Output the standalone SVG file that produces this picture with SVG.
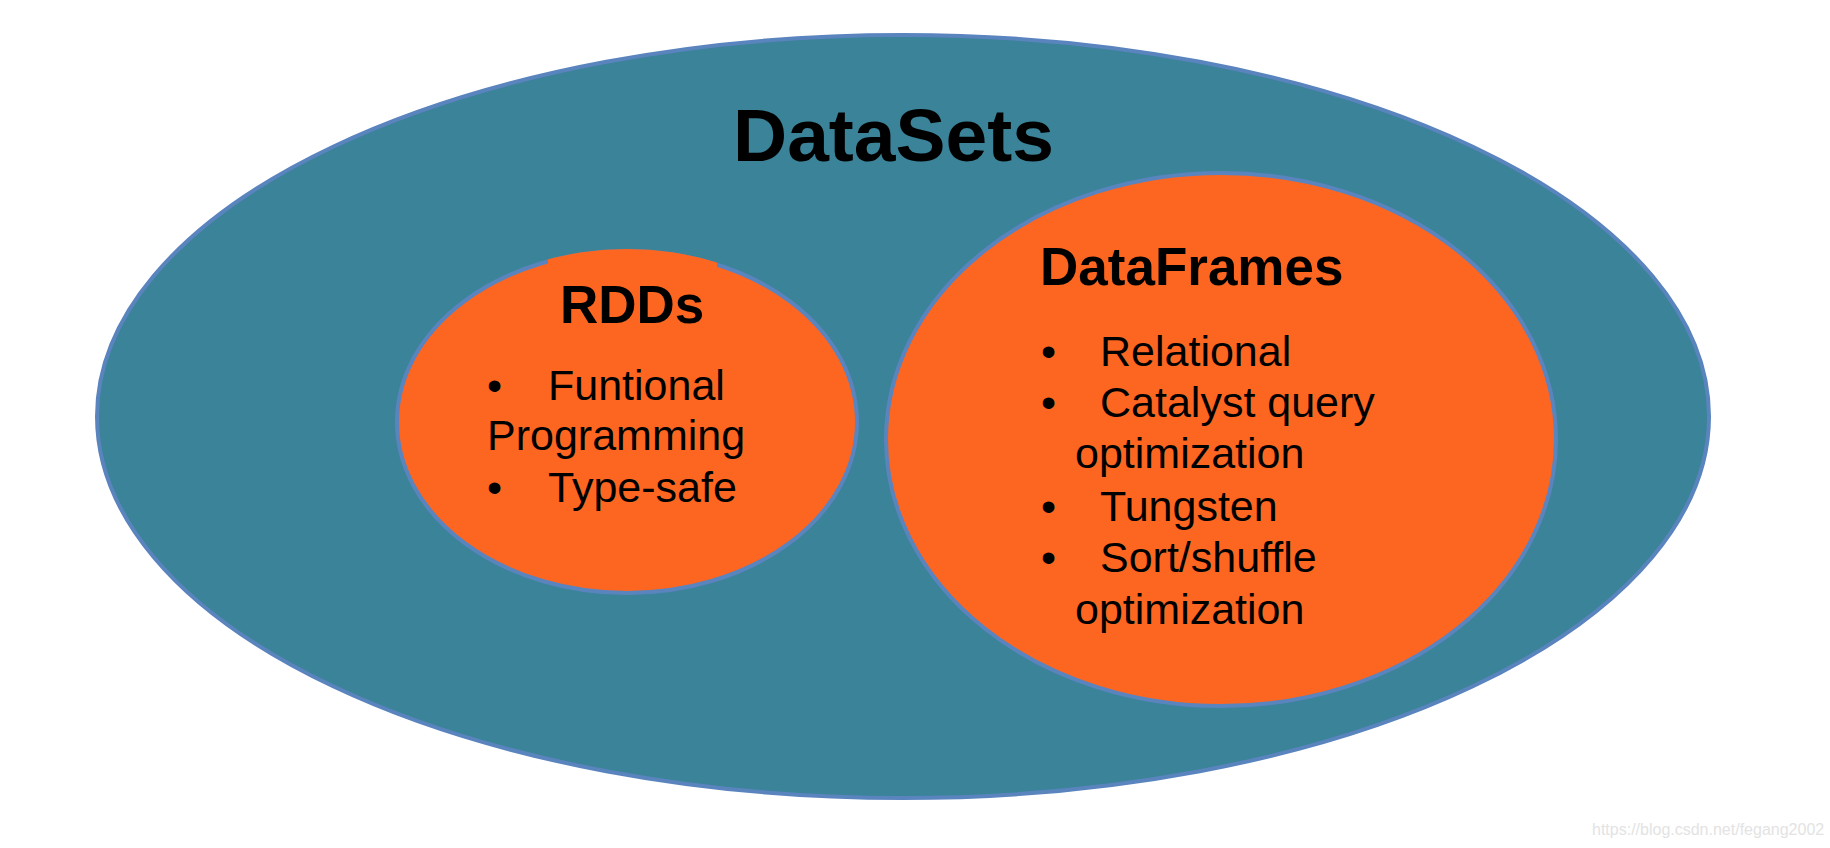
<svg xmlns="http://www.w3.org/2000/svg" width="1830" height="848" viewBox="0 0 1830 848">
<style>
.ell{stroke:#5a84be;stroke-width:4}
.teal{fill:#3a8399}
.org{fill:#fc6621}
.t{font-family:"Liberation Sans",Arial,sans-serif;fill:#000}
.b{font-weight:bold}
.body{font-size:43px}
</style>
<defs>
<clipPath id="rddclip"><ellipse cx="627" cy="422" rx="232" ry="173"/></clipPath>
</defs>
<rect width="1830" height="848" fill="#fff"/>
<g id="datasets">
<ellipse class="ell teal" cx="903" cy="416.5" rx="806" ry="381.5"/>
<text class="t b" x="733" y="161" font-size="75">DataSets</text>
</g>
<g id="rdds">
<ellipse class="ell org" cx="627" cy="422" rx="230" ry="171"/>
<rect class="org" x="548" y="240" width="169" height="95" clip-path="url(#rddclip)"/>
<text class="t b" x="560" y="323" font-size="53">RDDs</text>
<text class="t body" x="487" y="400">•</text>
<text class="t body" x="548" y="400">Funtional</text>
<text class="t body" x="487" y="450">Programming</text>
<text class="t body" x="487" y="502">•</text>
<text class="t body" x="548" y="502">Type-safe</text>
</g>
<g id="dataframes">
<ellipse class="ell org" cx="1221" cy="439.5" rx="335" ry="266.5"/>
<text class="t b" x="1040" y="285" font-size="53">DataFrames</text>
<text class="t body" x="1041" y="366">•</text>
<text class="t body" x="1100" y="366">Relational</text>
<text class="t body" x="1041" y="417">•</text>
<text class="t body" x="1100" y="417">Catalyst query</text>
<text class="t body" x="1075" y="468">optimization</text>
<text class="t body" x="1041" y="521">•</text>
<text class="t body" x="1100" y="521">Tungsten</text>
<text class="t body" x="1041" y="572">•</text>
<text class="t body" x="1100" y="572">Sort/shuffle</text>
<text class="t body" x="1075" y="624">optimization</text>
</g>
<g id="connectors"/>
<text class="t" x="1592" y="835" font-size="16" fill="#e3e3e3" style="fill:#e3e3e3">https://blog.csdn.net/fegang2002</text>
</svg>
